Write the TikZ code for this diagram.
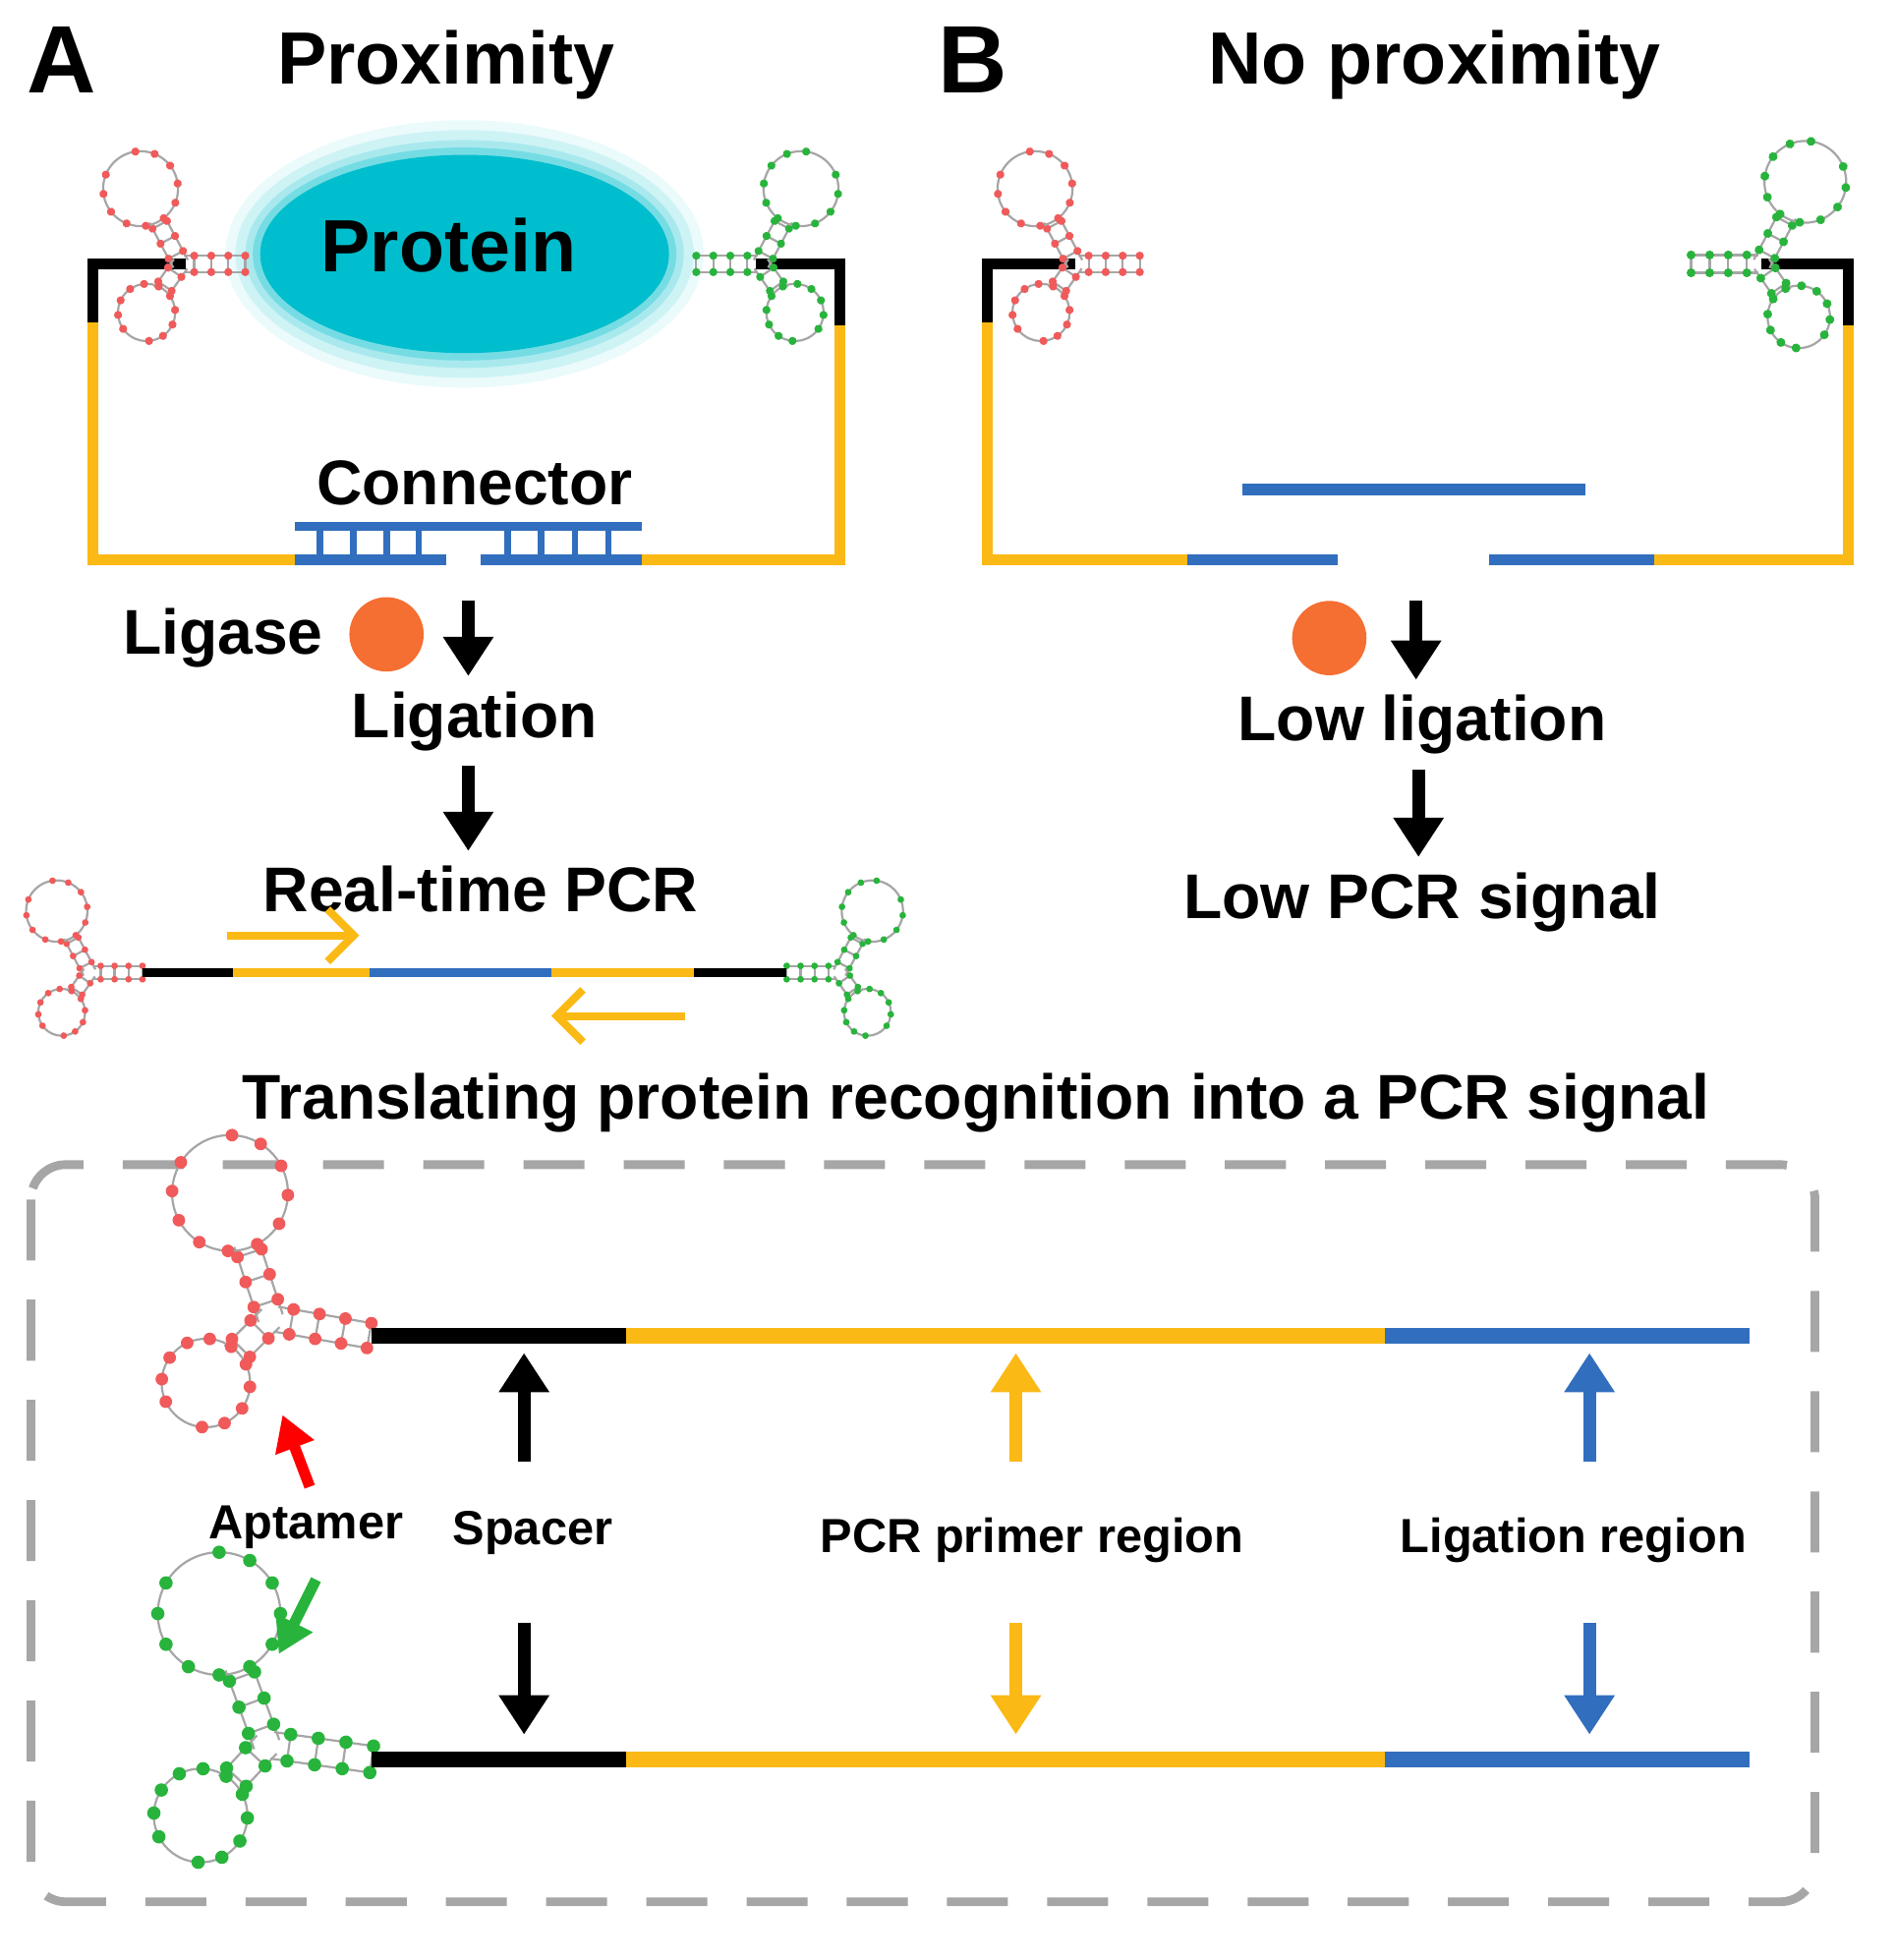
\documentclass[tikz,border=0pt]{standalone}
\usepackage{fontspec}
\setmainfont{Liberation Sans}
\usetikzlibrary{arrows.meta, positioning}

\definecolor{ylw}{RGB}{250,185,20}
\definecolor{blu}{RGB}{50,110,190}
\definecolor{rd}{RGB}{240,90,90}
\definecolor{gr}{RGB}{40,180,60}
\definecolor{cy}{RGB}{0,190,205}
\definecolor{lig}{RGB}{245,110,50}

\tikzset{
  pics/apt/.style={code={
      % stem
      \draw[gray!70, line width=0.5pt] (0,0.12) -- (-0.9,0.12) (0,-0.12) -- (-0.9,-0.12);
      \foreach \i in {0,...,3}{
          \draw[gray!70, line width=0.5pt] (-\i*0.25,0.12) -- (-\i*0.25,-0.12);
          \fill (-\i*0.25,0.12) circle (0.06) (-\i*0.25,-0.12) circle (0.06);
        }
      % arms
      \foreach \ang/\len/\r in {118/3/0.55, 235/2/0.42}{
          \begin{scope}[shift={(-0.95,0)}, rotate=\ang]
            \draw[gray!70, line width=0.5pt] (0,0.12) -- (\len*0.25,0.12) (0,-0.12) -- (\len*0.25,-0.12);
            \foreach \i in {1,...,\len}{
                \draw[gray!70, line width=0.5pt] (\i*0.25-0.1,0.12) -- (\i*0.25-0.1,-0.12);
                \fill (\i*0.25-0.1,0.12) circle (0.06) (\i*0.25-0.1,-0.12) circle (0.06);
              }
            \draw[gray!70, line width=0.5pt] (\len*0.25+\r-0.05,0) circle (\r);
            \foreach \a in {20,50,...,340}
            \fill ({\len*0.25+\r-0.05+\r*cos(\a)},{\r*sin(\a)}) circle (0.06);
          \end{scope}
        }
    }},
  strand/.style={line width=2.6pt},
  bigarrow/.style={-{Triangle[length=9pt,width=11pt]}, line width=3pt},
  lbl/.style={font=\fontsize{14.5}{17}\selectfont\bfseries},
  head/.style={font=\fontsize{17}{20}\selectfont\bfseries},
  small/.style={font=\fontsize{11}{13}\selectfont\bfseries}
}

\begin{document}
\begin{tikzpicture}[x=0.01cm, y=-0.01cm]
    \useasboundingbox (0,0) rectangle (1530,1582);

    % Panel A
    \node[head, font=\fontsize{22}{26}\selectfont\bfseries] (labA) at (50,48) {A};
    \node[head] (prox) at (360,52) {Proximity};

    % protein with glow
    \foreach \k/\o in {28/0.08, 20/0.12, 12/0.18, 6/0.3}
    \fill[cy, opacity=\o] (375,205) ellipse ({165+\k} and {80+\k});
    \fill[cy] (375,205) ellipse (165 and 80);
    \node[lbl, font=\fontsize{17}{20}\selectfont\bfseries] (protein) at (362,198) {Protein};

    \draw[strand] (75,262) -- (75,213) -- (150,213);
    \draw[strand] (610,213) -- (678,213) -- (678,265);
    \draw[strand, ylw] (75,260) -- (75,452) -- (240,452);
    \draw[strand, ylw] (518,452) -- (678,452) -- (678,263);
    \pic[color=rd, scale=55] at (198,213) {apt};
    \pic[color=gr, scale=55, xscale=-1] at (562,213) {apt};

    % connector
    \node[lbl] (connector) at (383,390) {Connector};
    \draw[strand, blu, line width=2pt] (238,425) -- (518,425);
    \draw[strand, blu] (238,452) -- (360,452) (388,452) -- (518,452);
    \foreach \x in {258,285,312,338,410,437,464,491}
    \draw[blu, line width=1.5pt] (\x,425) -- (\x,452);

    \node[lbl] (ligase) at (180,515) {Ligase};
    \fill[lig] (312,512) circle (30);
    \node[lbl] (ligation) at (383,582) {Ligation};
    \node[lbl] (rtpcr) at (388,718) {Real-time PCR};
    \draw[bigarrow] (378,485) -- (ligation.north -| 378,0);
    \draw[bigarrow] (ligation.south -| 378,0) -- (rtpcr.north -| 378,0);

    % product strand
    \pic[color=rd, scale=45] at (115,785) {apt};
    \pic[color=gr, scale=45, xscale=-1] at (635,785) {apt};
    \draw[strand, line width=2pt] (115,785) -- (188,785) (560,785) -- (635,785);
    \draw[strand, ylw, line width=2pt] (188,785) -- (298,785) (445,785) -- (560,785);
    \draw[strand, blu, line width=2pt] (298,785) -- (445,785);
    \draw[ylw, -{Straight Barb[length=6pt]}, line width=1.8pt] (183,755) -- (290,755);
    \draw[ylw, -{Straight Barb[length=6pt]}, line width=1.8pt] (553,820) -- (445,820);

    \node[lbl] (title) at (788,890) {Translating protein recognition into a PCR signal};

    % Panel B
    \node[head, font=\fontsize{22}{26}\selectfont\bfseries] (labB) at (785,48) {B};
    \node[head] (noprox) at (1158,52) {No proximity};
    \draw[strand] (797,262) -- (797,213) -- (868,213);
    \draw[strand] (1422,213) -- (1492,213) -- (1492,265);
    \draw[strand, ylw] (797,260) -- (797,452) -- (958,452);
    \draw[strand, ylw] (1335,452) -- (1492,452) -- (1492,263);
    \draw[strand, blu] (958,452) -- (1080,452) (1202,452) -- (1335,452);
    \draw[strand, blu] (1003,395) -- (1280,395);
    \pic[color=rd, scale=55] at (920,213) {apt};
    \pic[color=gr, scale=60, xscale=-1] at (1365,213) {apt};

    \fill[lig] (1073,515) circle (30);
    \node[lbl] (lowlig) at (1148,585) {Low ligation};
    \node[lbl] (lowpcr) at (1148,728) {Low PCR signal};
    \draw[bigarrow] (1143,485) -- (lowlig.north -| 1143,0);
    \draw[bigarrow] (lowlig.south -| 1145,0) -- (lowpcr.north -| 1145,0);

    % legend box
    \draw[gray!70, line width=2pt, dash pattern=on 14pt off 9pt, rounded corners=8pt] (25,940) rectangle (1465,1535);
    \pic[color=rd, scale=85, rotate=-10] at (298,1078) {apt};
    \pic[color=gr, scale=90, rotate=-8] at (300,1420) {apt};
    \foreach \y in {1078,1420}{
        \draw[strand, line width=3.5pt] (300,\y) -- (505,\y);
        \draw[strand, ylw, line width=3.5pt] (505,\y) -- (1118,\y);
        \draw[strand, blu, line width=3.5pt] (1118,\y) -- (1412,\y);
      }
    \node[small] (aptamer) at (247,1233) {Aptamer};
    \node[small] (spacer) at (430,1237) {Spacer};
    \node[small] (primer) at (833,1243) {PCR primer region};
    \node[small] (ligreg) at (1270,1243) {Ligation region};
    \foreach \x/\c in {423/black, 820/ylw, 1283/blu}{
        \draw[bigarrow, \c] (\x,1180) -- (\x,1092);
        \draw[bigarrow, \c] (\x,1310) -- (\x,1400);
      }
    \draw[-{Triangle[length=8pt,width=9pt]}, line width=2.5pt, red] (250,1200) -- (228,1142);
    \draw[-{Triangle[length=8pt,width=9pt]}, line width=2.5pt, gr] (255,1275) -- (225,1335);
\end{tikzpicture}
\end{document}
